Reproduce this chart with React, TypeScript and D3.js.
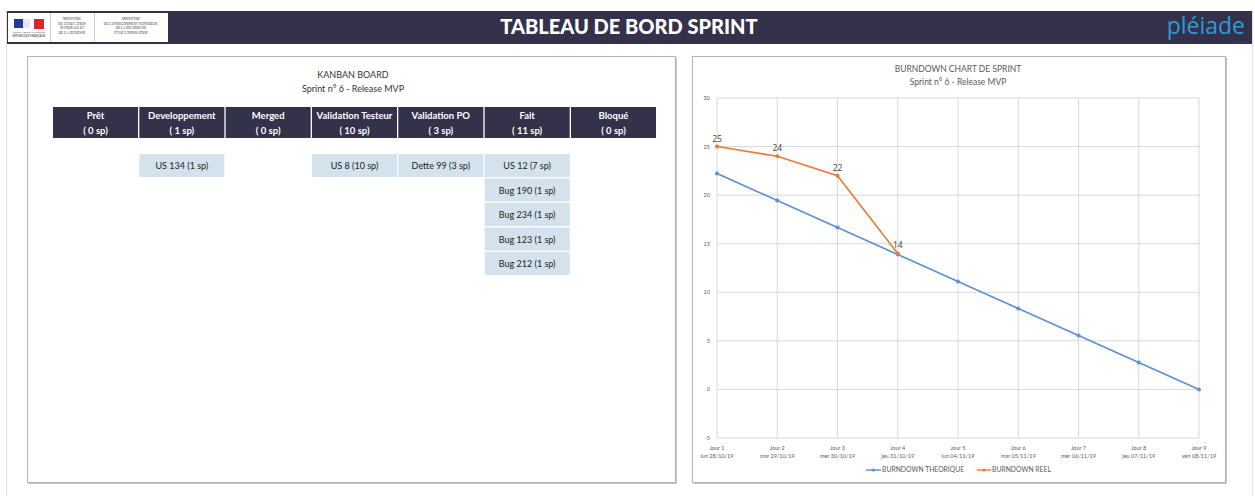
import React from "react";
import * as d3 from "d3";

const columns = ["Prêt", "Developpement", "Merged", "Validation Testeur", "Validation PO", "Fait", "Bloqué"];
const columnPoints = [0, 1, 0, 10, 3, 11, 0];
const cards: [string, string][] = [
  ["Developpement", "US 134 (1 sp)"],
  ["Validation Testeur", "US 8 (10 sp)"],
  ["Validation PO", "Dette 99 (3 sp)"],
  ["Fait", "US 12 (7 sp)"],
  ["Fait", "Bug 190 (1 sp)"],
  ["Fait", "Bug 234 (1 sp)"],
  ["Fait", "Bug 123 (1 sp)"],
  ["Fait", "Bug 212 (1 sp)"],
];

const days = ["Jour 1", "Jour 2", "Jour 3", "Jour 4", "Jour 5", "Jour 6", "Jour 7", "Jour 8", "Jour 9"];
const dates = ["lun 28/10/19", "mar 29/10/19", "mer 30/10/19", "jeu 31/10/19", "lun 04/11/19", "mar 05/11/19", "mer 06/11/19", "jeu 07/11/19", "ven 08/11/19"];
const theorique = [22.22, 19.44, 16.67, 13.89, 11.11, 8.33, 5.56, 2.78, 0];
const reel = [25, 24, 22, 14];
const yTicks = [-5, 0, 5, 10, 15, 20, 25, 30];

const W = 1255;
const H = 496;
const DARK = "#33324a";
const CARD = "#d3e2ec";
const BLUE = "#5b8fd6";
const ORANGE = "#ec7a34";
const FONT = "Lato, 'Open Sans', sans-serif";

export default function App() {
  const col = d3.scaleBand<string>().domain(columns).range([53, 656]).paddingInner(0.015);
  const rowY = (i: number) => 154 + i * 24.5;

  const x = d3.scalePoint<string>().domain(days).range([717, 1199]);
  const y = d3.scaleLinear().domain([-5, 30]).range([438, 98]);

  const lineT = d3.line<number>().x((_, i) => x(days[i])!).y((d) => y(d));

  const rowCount: Record<string, number> = {};
  const placed = cards.map(([c, label]) => {
    const r = rowCount[c] ?? 0;
    rowCount[c] = r + 1;
    return { c, label, r };
  });

  return (
    <div style={{ position: "absolute", left: 0, top: 0 }}>
      <svg width={W} height={H} style={{ display: "block", fontFamily: FONT }}>
        <rect width={W} height={H} fill="#fff" />
        {/* outer page edges */}
        <line x1={6.5} x2={6.5} y1={11} y2={H} stroke="#e2e2e2" />
        <line x1={1252.5} x2={1252.5} y1={11} y2={H} stroke="#e2e2e2" />

        {/* header */}
        <rect x={7} y={11} width={1245} height={33} fill={DARK} />
        <rect x={8} y={13} width={160} height={29} fill="#fff" />
        <line x1={50.5} x2={50.5} y1={13} y2={42} stroke="#ccc" />
        <line x1={94.5} x2={94.5} y1={13} y2={42} stroke="#ccc" />
        <rect x={14} y={19} width={9} height={9} fill="#1f3d8c" />
        <rect x={23} y={19} width={7} height={9} fill="#e6e6ee" />
        <rect x={34} y={19} width={10} height={10} fill="#d9262b" />
        <text x={29} y={33} fontSize={2.6} textAnchor="middle" fill="#555">Liberté • Égalité • Fraternité</text>
        <text x={29} y={37} fontSize={2.8} textAnchor="middle" fill="#333">RÉPUBLIQUE FRANÇAISE</text>
        <g fontSize={3.4} textAnchor="middle" fill="#333" fontFamily="'Liberation Serif', serif">
          <text x={72} y={20}>MINISTÈRE</text>
          <text x={72} y={24.5}>DE L'ÉDUCATION</text>
          <text x={72} y={29}>NATIONALE ET</text>
          <text x={72} y={33.5}>DE LA JEUNESSE</text>
          <text x={131} y={20}>MINISTÈRE</text>
          <text x={131} y={24.5}>DE L'ENSEIGNEMENT SUPÉRIEUR,</text>
          <text x={131} y={29}>DE LA RECHERCHE</text>
          <text x={131} y={33.5}>ET DE L'INNOVATION</text>
        </g>
        <text x={629} y={33.5} textAnchor="middle" fill="#fff" fontSize={20} fontWeight={900}>
          TABLEAU DE BORD SPRINT
        </text>
        <text x={1245} y={34} textAnchor="end" fill="#2e9ad8" fontSize={23} fontFamily="'Open Sans', sans-serif">
          pléiade
        </text>
        <text x={1246} y={43} textAnchor="end" fill="#1f4fa0" fontSize={2.5}>éducation</text>

        {/* kanban panel */}
        <rect x={28.5} y={57.5} width={648} height={426} fill="#888" />
        <rect x={27.5} y={56.5} width={648} height={426} fill="#fff" stroke="#b3b3b3" />
        <text x={353} y={78} textAnchor="middle" fontSize={9} fill="#333">KANBAN BOARD</text>
        <text x={353} y={92} textAnchor="middle" fontSize={9} fill="#333">Sprint n° 6 - Release MVP</text>
        {columns.map((c, i) => (
          <g key={c}>
            <rect x={col(c)} y={107} width={col.bandwidth()} height={31} fill={DARK} />
            <text x={col(c)! + col.bandwidth() / 2} y={119} textAnchor="middle" fill="#fff" fontSize={9.5} fontWeight={700}>
              {c}
            </text>
            <text x={col(c)! + col.bandwidth() / 2} y={134} textAnchor="middle" fill="#fff" fontSize={9.5} fontWeight={700}>
              {`( ${columnPoints[i]} sp)`}
            </text>
          </g>
        ))}
        {placed.map((p) => (
          <g key={p.label}>
            <rect x={col(p.c)} y={rowY(p.r)} width={col.bandwidth()} height={23} fill={CARD} />
            <text x={col(p.c)! + col.bandwidth() / 2} y={rowY(p.r) + 15} textAnchor="middle" fill="#222" fontSize={9}>
              {p.label}
            </text>
          </g>
        ))}

        {/* burndown panel */}
        <rect x={693.5} y={57.5} width={533} height={426} fill="#888" />
        <rect x={692.5} y={56.5} width={533} height={426} fill="#fff" stroke="#b3b3b3" />
        <text x={958} y={72} textAnchor="middle" fontSize={8.5} fill="#595959">BURNDOWN CHART DE SPRINT</text>
        <text x={958} y={85} textAnchor="middle" fontSize={8.5} fill="#595959">Sprint n° 6 - Release MVP</text>

        {yTicks.map((t) => (
          <g key={t}>
            <line x1={717} x2={1199} y1={y(t)} y2={y(t)} stroke="#d9d9d9" strokeWidth={1} />
            <text x={710} y={y(t) + 2} textAnchor="end" fontSize={5.5} fill="#595959">{t}</text>
          </g>
        ))}
        {days.map((d, i) => (
          <g key={d}>
            <line x1={x(d)} x2={x(d)} y1={y(30)} y2={y(-5)} stroke="#d9d9d9" strokeWidth={1} />
            <text x={x(d)} y={450} textAnchor="middle" fontSize={5.5} fill="#595959">{d}</text>
            <text x={x(d)} y={458} textAnchor="middle" fontSize={5.5} fill="#595959">{dates[i]}</text>
          </g>
        ))}

        <path d={lineT(theorique)!} fill="none" stroke={BLUE} strokeWidth={1.6} />
        {theorique.map((v, i) => (
          <circle key={i} cx={x(days[i])} cy={y(v)} r={2} fill={BLUE} />
        ))}
        <path d={lineT(reel)!} fill="none" stroke={ORANGE} strokeWidth={1.6} />
        {reel.map((v, i) => (
          <g key={i}>
            <circle cx={x(days[i])} cy={y(v)} r={2} fill={ORANGE} />
            <text x={x(days[i])} y={y(v) - 5} textAnchor="middle" fontSize={8.5} fill="#404040" fontFamily="'Open Sans', sans-serif">
              {v}
            </text>
          </g>
        ))}

        {/* legend */}
        <line x1={866} x2={881} y1={470} y2={470} stroke={BLUE} strokeWidth={1.4} />
        <circle cx={873.5} cy={470} r={1.6} fill={BLUE} />
        <text x={882} y={472.3} fontSize={6.8} fill="#595959">BURNDOWN THEORIQUE</text>
        <line x1={977} x2={991} y1={470} y2={470} stroke={ORANGE} strokeWidth={1.4} />
        <circle cx={984} cy={470} r={1.6} fill={ORANGE} />
        <text x={992} y={472.3} fontSize={6.8} fill="#595959">BURNDOWN REEL</text>
      </svg>
    </div>
  );
}
